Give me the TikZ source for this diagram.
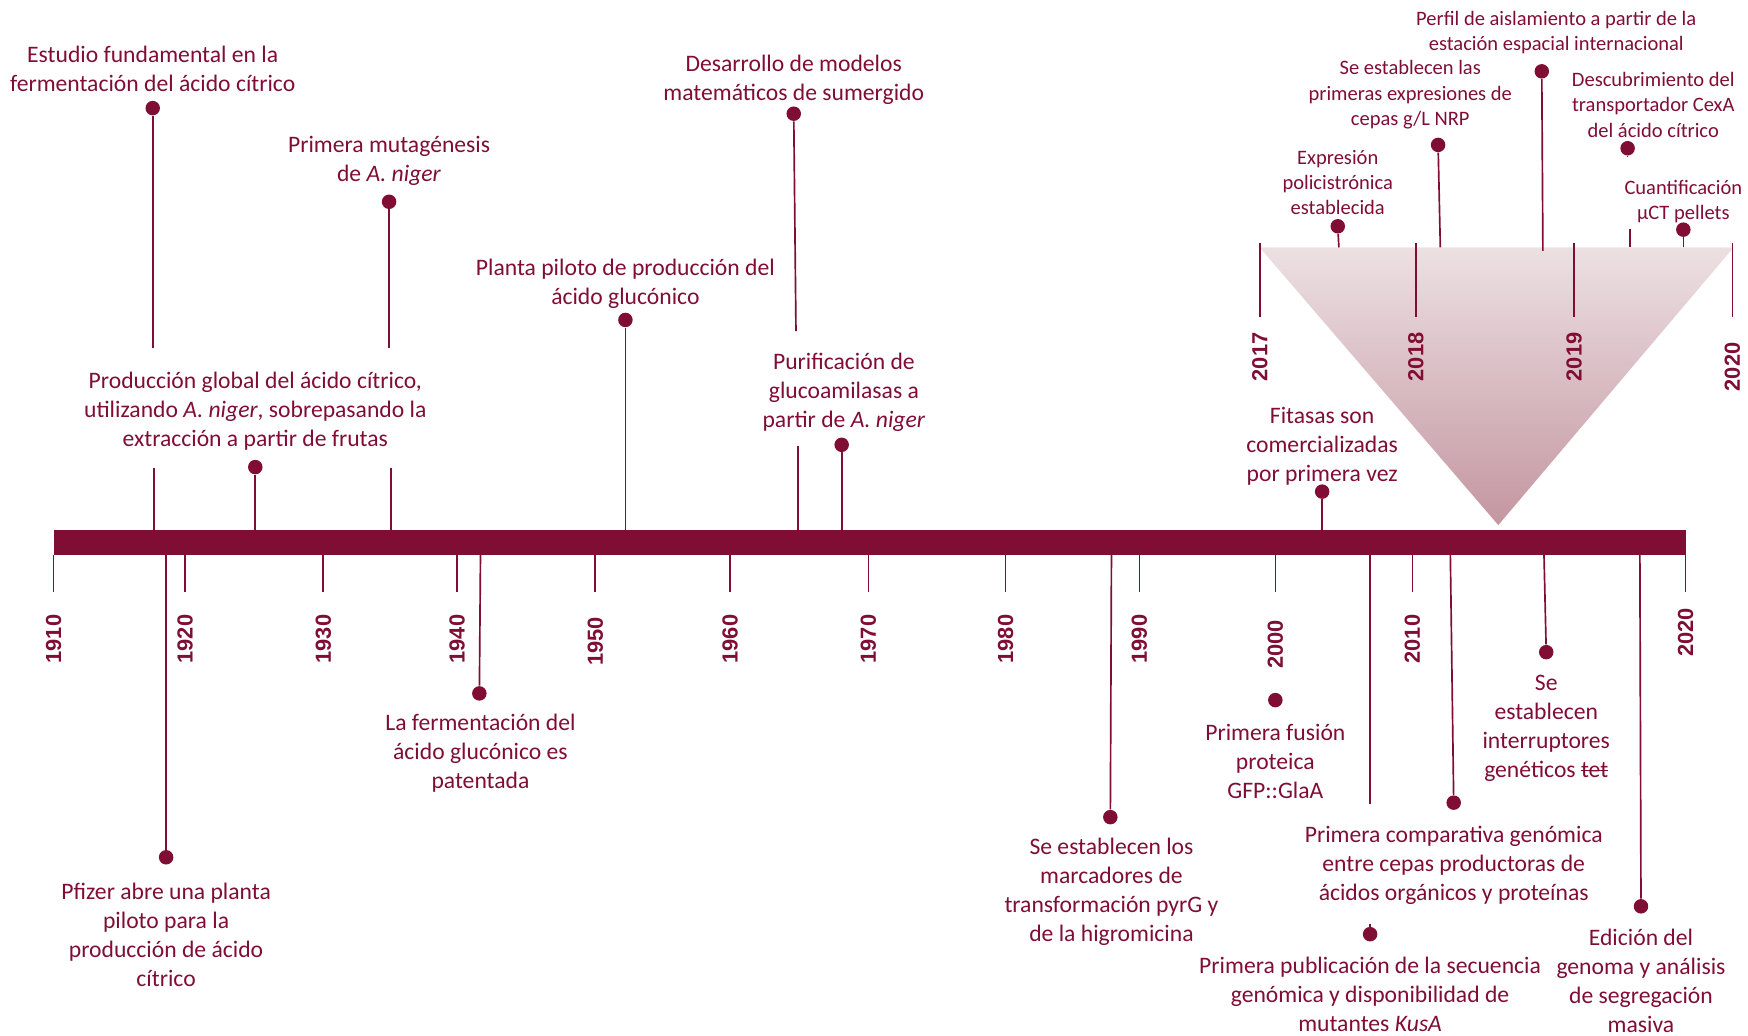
\documentclass[tikz,border=0pt]{standalone}
\usepackage{fontspec}
\setmainfont{Carlito}
\newfontfamily\yrfont{Liberation Sans}
\definecolor{ink}{RGB}{128,14,52}
\definecolor{tritop}{RGB}{236,224,227}
\definecolor{tribot}{RGB}{196,150,160}
% struck-through word
\newcommand\strikeword[1]{\setbox0\hbox{#1}\rlap{\rule[0.25em]{\wd0}{0.07em}}\box0}
\tikzset{
  lbl/.style={text=ink, font=\fontsize{10.6}{13}\selectfont, align=center, inner sep=0pt},
  lbls/.style={text=ink, font=\fontsize{9.2}{11.3}\selectfont, align=center, inner sep=0pt},
  dot/.style={circle, fill=ink, inner sep=0pt, minimum size=6.5pt},
  stem/.style={draw=ink, line width=0.75pt},
  yr/.style={font=\yrfont\bfseries\fontsize{9.8}{12}\selectfont, text=ink, rotate=90, anchor=east, inner sep=0pt},
}
\begin{document}
\begin{tikzpicture}[x=0.5pt,y=-0.5pt]
\useasboundingbox (0,0) rectangle (1568,929);

% zoomed 2017-2020 wedge
\shade[top color=tritop, bottom color=tribot] (1130,222) -- (1555,222) -- (1344,471) -- cycle;

% main time bar
\fill[ink] (48,475) rectangle (1512,498);

% decade ticks and labels
\foreach \x/\y/\l in {48/1910/551,166/1920/551,290/1930/551,410/1940/551,534/1950/553,655/1960/551,779/1970/551,902/1980/551,1022/1990/551,1144/2000/556,1267/2010/551,1512/2020/545}{
  \coordinate (t\y a) at (\x,498);
  \coordinate (t\y b) at (\x,531);
  \draw[stem] (t\y a) -- (t\y b);
  \node[yr] (y\y) at (\x,\l) {\y};
}

% wedge year ticks and labels
\foreach \x/\y/\l in {1130/2017/298,1270/2018/298,1412/2019/298,1554/2020/307}{
  \coordinate (w\y a) at (\x,218);
  \coordinate (w\y b) at (\x,284);
  \draw[stem] (w\y a) -- (w\y b);
  \node[yr] (wy\y) at (\x,\l) {\y};
}

% ---------- events above the bar ----------
\node[dot] (e1) at (137,97) {};
\coordinate (e1a) at (137,312); \coordinate (e1b) at (138,420); \coordinate (e1c) at (138,475);
\draw[stem] (e1) -- (e1a); \draw[stem] (e1b) -- (e1c);
\node[lbl] (e1t) at (137,62) {Estudio fundamental en la\\fermentación del ácido cítrico};

\node[dot] (e2) at (229,419) {};
\coordinate (e2a) at (229,475);
\draw[stem] (e2) -- (e2a);
\node[lbl] (e2t) at (229,369) {Producción global del ácido cítrico,\\utilizando \textit{A. niger}, sobrepasando la\\extracción a partir de frutas};

\node[dot] (e3) at (349,181) {};
\coordinate (e3a) at (349,312); \coordinate (e3b) at (351,420); \coordinate (e3c) at (351,475);
\draw[stem] (e3) -- (e3a); \draw[stem] (e3b) -- (e3c);
\node[lbl] (e3t) at (349,144) {Primera mutagénesis\\de \textit{A. niger}};

\node[dot] (e4) at (561,287) {};
\coordinate (e4a) at (561,475);
\draw[stem] (e4) -- (e4a);
\node[lbl] (e4t) at (561,255) {Planta piloto de producción del\\ácido glucónico};

\node[dot] (e5) at (712,102) {};
\coordinate (e5a) at (714,297); \coordinate (e5b) at (716,400); \coordinate (e5c) at (716,475);
\draw[stem] (e5) -- (e5a); \draw[stem] (e5b) -- (e5c);
\node[lbl] (e5t) at (712,72) {Desarrollo de modelos\\matemáticos de sumergido};

\node[dot] (e6) at (755,399) {};
\coordinate (e6a) at (755,475);
\draw[stem] (e6) -- (e6a);
\node[lbl] (e6t) at (757,352) {Purificación de\\glucoamilasas a\\partir de \textit{A. niger}};

\node[dot] (e7) at (1186,441) {};
\coordinate (e7a) at (1186,475);
\draw[stem] (e7) -- (e7a);
\node[lbl] (e7t) at (1186,400) {Fitasas son\\comercializadas\\por primera vez};

% ---------- events on the wedge ----------
\node[dot] (t1) at (1200,203) {};
\coordinate (t1a) at (1201,222);
\draw[stem] (t1) -- (t1a);
\node[lbls] (t1t) at (1200,164) {Expresión\\policistrónica\\establecida};

\node[dot] (t2) at (1290,130) {};
\coordinate (t2a) at (1292,222);
\draw[stem] (t2) -- (t2a);
\node[lbls] (t2t) at (1265,85) {Se establecen las\\primeras expresiones de\\cepas g/L NRP};

\node[dot] (t3) at (1383,64) {};
\coordinate (t3a) at (1384,225);
\draw[stem] (t3) -- (t3a);
\node[lbls] (t3t) at (1396,29) {Perfil de aislamiento a partir de la\\estación espacial internacional};

\node[dot] (t4) at (1460,133) {};
\coordinate (t4a) at (1460,141); \coordinate (t4b) at (1462,205); \coordinate (t4c) at (1462,222);
\draw[stem] (t4) -- (t4a); \draw[stem] (t4b) -- (t4c);
\node[lbls] (t4t) at (1483,94) {Descubrimiento del\\transportador CexA\\del ácido cítrico};

\node[lbls] (t5t) at (1510,181) {Cuantificación\\µCT pellets};
\node[dot] (t5) at (1510,206) {};
\coordinate (t5a) at (1510,222);
\draw[stem] (t5) -- (t5a);

% ---------- events below the bar ----------
\coordinate (b1a) at (149,498);
\node[dot] (b1) at (149,769) {};
\draw[stem] (b1a) -- (b1);
\node[lbl] (b1t) at (149,839) {Pfizer abre una planta\\piloto para la\\producción de ácido\\cítrico};

\coordinate (b2a) at (431,498);
\node[dot] (b2) at (430,622) {};
\draw[stem] (b2a) -- (b2);
\node[lbl] (b2t) at (431,676) {La fermentación del\\ácido glucónico es\\patentada};

\coordinate (b3a) at (997,498);
\node[dot] (b3) at (996,733) {};
\draw[stem] (b3a) -- (b3);
\node[lbl] (b3t) at (997,800) {Se establecen los\\marcadores de\\transformación pyrG y\\de la higromicina};

\node[dot] (b4) at (1144,628) {};
\node[lbl] (b4t) at (1144,683) {Primera fusión\\proteica\\GFP::GlaA};

\coordinate (b5a) at (1229,498); \coordinate (b5b) at (1229,721); \coordinate (b5c) at (1229,829);
\node[dot] (b5) at (1229,838) {};
\draw[stem] (b5a) -- (b5b); \draw[stem] (b5c) -- (b5);
\node[lbl] (b5t) at (1229,892) {Primera publicación de la secuencia\\genómica y disponibilidad de\\mutantes \textit{KusA}};

\coordinate (b6a) at (1301,498);
\node[dot] (b6) at (1304,720) {};
\draw[stem] (b6a) -- (b6);
\node[lbl] (b6t) at (1304,776) {Primera comparativa genómica\\entre cepas productoras de\\ácidos orgánicos y proteínas};

\coordinate (b7a) at (1385,498);
\node[dot] (b7) at (1387,585) {};
\draw[stem] (b7a) -- (b7);
\node[lbl] (b7t) at (1387,653) {Se\\establecen\\interruptores\\genéticos \strikeword{tet}};

\coordinate (b8a) at (1471,498);
\node[dot] (b8) at (1472,813) {};
\draw[stem] (b8a) -- (b8);
\node[lbl] (b8t) at (1472,880) {Edición del\\genoma y análisis\\de segregación\\masiva};
\end{tikzpicture}
\end{document}
